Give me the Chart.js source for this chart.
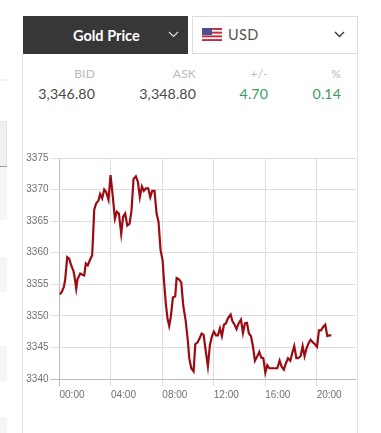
<!DOCTYPE html>
<html><head><meta charset="utf-8">
<script src="https://cdn.jsdelivr.net/npm/chart.js@4"></script>
<style>
html,body{margin:0;padding:0;background:#fff;width:381px;height:433px;overflow:hidden;font-family:Lato,sans-serif}
.a{position:absolute}
canvas{position:absolute;left:0;top:0}
.lab{color:#bbb;font-size:12px;line-height:16px;text-align:right;letter-spacing:.2px}
.val{color:#4a4a4a;font-size:14.2px;line-height:18px;text-align:right;letter-spacing:.1px}
.g{color:#3a9c5f}
</style></head><body>
<div class="a" style="left:0;top:79px;width:8px;height:2px;background:#f4f4f4"></div>
<div class="a" style="left:0;top:121px;width:7px;height:45px;background:#f0f0f0;border-top:1px solid #e2e2e2;border-right:1px solid #e2e2e2;box-sizing:border-box"></div>
<div class="a" style="left:0;top:166px;width:7px;height:1px;background:#999"></div>
<div class="a" style="left:0;top:167px;width:7px;height:53px;background:#f6f6f6"></div>
<div class="a" style="left:0;top:257px;width:7px;height:35px;background:#f5f5f5"></div>
<div class="a" style="left:0;top:346px;width:7px;height:35px;background:#f5f5f5"></div>
<div class="a" style="left:0;top:417px;width:7px;height:16px;background:#f5f5f5"></div>
<div class="a" style="left:22px;top:54px;width:1px;height:379px;background:#e2e2e2"></div>
<div class="a" style="left:357px;top:54px;width:1px;height:379px;background:#e2e2e2"></div>
<div class="a" style="left:23px;top:16px;width:165px;height:38px;background:#373737"></div>
<div class="a" style="left:73px;top:26px;color:#fff;font-weight:700;font-size:14.5px;line-height:20px">Gold Price</div>
<svg class="a" style="left:168px;top:31px" width="11" height="7"><path d="M1 1L5.5 5.5L10 1" fill="none" stroke="#ddd" stroke-width="1.2"/></svg>
<div class="a" style="left:192px;top:16px;width:166px;height:38px;box-sizing:border-box;border:1px solid #ddd"></div>
<svg class="a" style="left:202px;top:28px" width="20" height="13" viewBox="0 0 20 13">
<rect width="20" height="13" fill="#fff"/>
<rect y="0" width="20" height="1.9" fill="#c8283c"/><rect y="3.7" width="20" height="1.9" fill="#c8283c"/><rect y="7.4" width="20" height="1.9" fill="#c8283c"/><rect y="11.1" width="20" height="1.9" fill="#c8283c"/>
<rect width="10" height="7" fill="#4d4f8e"/></svg>
<div class="a" style="left:228px;top:25px;color:#555;font-size:14.5px;line-height:20px;letter-spacing:.4px">USD</div>
<svg class="a" style="left:334px;top:31px" width="11" height="7"><path d="M1 1L5.5 5.5L10 1" fill="none" stroke="#333" stroke-width="1.3"/></svg>
<div class="a lab" style="right:286px;top:66px">BID</div>
<div class="a lab" style="right:185px;top:66px">ASK</div>
<div class="a lab" style="right:113px;top:66px">+/-</div>
<div class="a lab" style="right:40px;top:66px">%</div>
<div class="a val" style="right:286px;top:85px">3,346.80</div>
<div class="a val" style="right:185px;top:85px">3,348.80</div>
<div class="a val g" style="right:113px;top:85px">4.70</div>
<div class="a val g" style="right:40px;top:85px">0.14</div>
<canvas id="c" width="381" height="433"></canvas>
<script>
const hours = [0,.18,.34,.44,.60,.75,.91,1.09,1.17,1.30,1.40,1.61,1.79,1.92,2.05,2.20,2.36,2.54,2.62,2.70,2.85,3.04,3.16,3.32,3.48,3.63,3.81,3.97,4.15,4.31,4.46,4.62,4.80,4.95,5.11,5.27,5.45,5.60,5.76,5.94,6.10,6.25,6.41,6.56,6.72,6.90,7.06,7.21,7.39,7.55,7.70,7.86,8.02,8.12,8.27,8.40,8.53,8.66,8.82,9.00,9.11,9.29,9.47,9.62,9.81,9.99,10.09,10.25,10.43,10.56,10.74,10.89,11.05,11.21,11.36,11.54,11.70,11.85,12.01,12.17,12.32,12.48,12.63,12.79,12.94,13.10,13.31,13.46,13.62,13.77,13.93,14.11,14.27,14.42,14.58,14.73,14.89,15.05,15.20,15.38,15.54,15.69,15.85,16.01,16.16,16.32,16.47,16.63,16.78,16.94,17.12,17.27,17.45,17.61,17.77,17.95,18.10,18.26,18.42,18.57,18.75,18.91,19.06,19.22,19.38,19.53,19.71,19.87,20.03,20.18,20.34,20.49,20.67,20.83,20.98,21.14];
const prices = [3353.4,3353.8,3354.6,3355.7,3359.3,3359.05,3358,3357.1,3356.2,3354.3,3355.8,3356.7,3356.5,3356.4,3358.3,3358,3358.8,3359.6,3363,3366.8,3367.8,3368.3,3369.3,3368.6,3370,3369.6,3368.4,3372.3,3368.8,3365.4,3366.5,3366.2,3363,3365.7,3366.2,3364.3,3364.6,3366.7,3371.7,3372.1,3371.2,3368.8,3370.5,3369.8,3370.2,3370.2,3368.8,3369.8,3369.8,3366.2,3364.9,3360.4,3358.8,3355.7,3351.9,3349.6,3348.4,3349.9,3352.9,3353.1,3356,3355.8,3355.3,3351.7,3349.3,3345.9,3343.3,3341.7,3341.2,3345.5,3345.8,3346.4,3347.2,3347,3344.6,3342,3345.4,3346.7,3347.5,3346.9,3346.9,3348,3346.8,3348.6,3348.8,3349.6,3350.2,3349.1,3348.6,3347.9,3348.8,3349.4,3347.3,3348.8,3348.9,3347.2,3346.8,3345.1,3342.9,3343.6,3344.3,3343.4,3343.3,3341,3342.2,3341.7,3341.7,3341.7,3341.7,3341.7,3342.9,3342,3341.5,3342.5,3343.3,3342.9,3344.1,3345.2,3343.3,3343.3,3343.6,3345.2,3343.6,3344.9,3345.7,3346.2,3345.8,3345.5,3345.1,3347.7,3347.7,3348.2,3348.6,3346.8,3346.9,3346.9];
const xTickHours = [0,4,8,12,16,20];
const xTickLabels = ['00:00','04:00','08:00','12:00','16:00','20:00'];
const yTicks = [3340,3345,3350,3355,3360,3365,3370,3375];
new Chart(document.getElementById('c'),{
  type:'line',
  data:{datasets:[{data:hours.map((h,i)=>({x:h,y:prices[i]})),borderColor:'#9c0b13',borderWidth:2.2,pointRadius:0,tension:0,fill:false,borderJoinStyle:'miter'}]},
  options:{
    responsive:false,animation:false,events:[],
    layout:{padding:{left:0,top:158,right:25,bottom:0}},
    plugins:{legend:{display:false},tooltip:{enabled:false},title:{display:false}},
    scales:{
      x:{type:'linear',min:0,max:23.06,
        afterBuildTicks:s=>{s.ticks=xTickHours.map(v=>({value:v}));},
        afterFit:s=>{s.height=54;},
        grid:{color:c=>c.index===0?'#bbbbbb':'#dedede',tickLength:7,drawOnChartArea:true},
        border:{display:false},
        ticks:{align:'start',maxRotation:0,autoSkip:false,padding:3,color:'#707070',font:{family:'"Liberation Sans"',size:10},
          callback:v=>xTickLabels[xTickHours.indexOf(v)]}},
      y:{type:'linear',min:3340,max:3375,
        afterBuildTicks:s=>{s.ticks=yTicks.map(v=>({value:v}));},
        afterFit:s=>{s.width=59.5;},
        grid:{color:c=>c.tick&&c.tick.value===3340?'#bbbbbb':'#dedede',tickLength:9},
        border:{display:false},
        ticks:{padding:2,color:'#707070',font:{family:'"Liberation Sans"',size:10},callback:v=>String(v)}}
    }
  }
});
</script>
</body></html>
